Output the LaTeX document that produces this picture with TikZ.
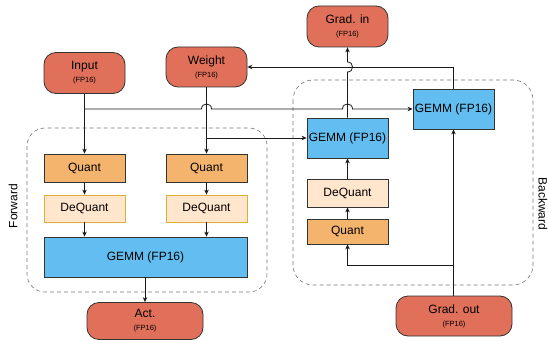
\documentclass[tikz,border=0pt]{standalone}
\usepackage{fontspec}
\setmainfont{Liberation Sans}
\usetikzlibrary{arrows.meta}
\definecolor{tensorred}{HTML}{E0705A}
\definecolor{quantfill}{HTML}{F5B46E}
\definecolor{dqfill}{HTML}{FFE6CC}
\definecolor{dqedge}{HTML}{E0AE35}
\definecolor{gemmfill}{HTML}{62BEF0}
\definecolor{edge}{HTML}{333333}
\definecolor{wire}{HTML}{1A1A1A}
\definecolor{groupline}{HTML}{777777}
\tikzset{
  tensor/.style={draw=edge, line width=0.8pt, fill=tensorred, rounded corners=12pt,
    align=center, inner sep=0pt, font=\fontsize{12}{12}\selectfont},
  quantbox/.style={draw=edge, line width=0.8pt, fill=quantfill, minimum width=81pt,
    inner sep=0pt, font=\fontsize{12}{12}\selectfont},
  dqbox/.style={draw=dqedge, line width=0.8pt, fill=dqfill, minimum width=81pt,
    inner sep=0pt, font=\fontsize{12}{12}\selectfont},
  gemmbox/.style={draw=edge, line width=0.8pt, fill=gemmfill, inner sep=0pt,
    font=\fontsize{12}{12}\selectfont},
  group/.style={draw=groupline, dashed, dash pattern=on 4pt off 3pt, line width=0.6pt},
  arr/.style={draw=wire, line width=0.8pt, -{Stealth[length=5pt,width=4.5pt]}},
  wireline/.style={draw=wire, line width=0.8pt},
  sidelabel/.style={font=\fontsize{12}{12}\selectfont, inner sep=0pt}
}
\newcommand{\subfp}{{\fontsize{7.5}{8}\selectfont (FP16)}}
\begin{document}
\begin{tikzpicture}[x=1pt,y=-1pt]
\useasboundingbox (0,0) rectangle (548,342);

% dashed groups
\draw[group, rounded corners=18pt] (27,128) rectangle (267,292);
\draw[group, rounded corners=20pt] (293,80) rectangle (533,285);
\node[sidelabel, rotate=90] (fwdlabel) at (13,206) {Forward};
\node[sidelabel, rotate=-90] (bwdlabel) at (543,204) {Backward};

% tensors
\node[tensor, minimum width=81pt, minimum height=41pt] (inp) at (84.5,73) {Input\\[1pt]\subfp};
\node[tensor, minimum width=81pt, minimum height=40pt] (wgt) at (206.5,67) {Weight\\[1pt]\subfp};
\node[tensor, minimum width=81pt, minimum height=41pt] (gin) at (347.5,26.5) {Grad. in\\[1pt]\subfp};
\node[tensor, minimum width=116pt, minimum height=37pt] (act) at (145,321) {Act.\\[1pt]\subfp};
\node[tensor, minimum width=116pt, minimum height=40pt] (gout) at (454,316) {Grad. out\\[1pt]\subfp};

% forward pass
\node[quantbox, minimum height=28pt] (qL) at (84.5,168) {Quant};
\node[quantbox, minimum height=28pt] (qR) at (206.5,168) {Quant};
\node[dqbox, minimum height=27pt] (dL) at (84.5,208.5) {DeQuant};
\node[dqbox, minimum height=27pt] (dR) at (206.5,208.5) {DeQuant};
\node[gemmbox, minimum width=203pt, minimum height=40pt] (gF) at (145.5,257) {GEMM (FP16)};

% backward pass
\node[gemmbox, minimum width=81pt, minimum height=40pt] (gB1) at (347.5,138) {GEMM (FP16)};
\node[gemmbox, minimum width=81pt, minimum height=40pt] (gB2) at (453.5,109) {GEMM (FP16)};
\node[dqbox, draw=edge, minimum height=28pt] (dB) at (347.5,193) {DeQuant};
\node[quantbox, minimum height=25pt] (qB) at (347.5,231.5) {Quant};

% branch points
\coordinate (inpT) at (84.5,109);
\coordinate (wgtT) at (206.5,138);
\coordinate (goutT) at (453.5,265);
\coordinate (gB2up) at (453.5,67);

% forward wiring
\draw[arr] (inp.south) -- (qL.north);
\draw[arr] (wgt.south) -- (qR.north);
\draw[arr] (qL) -- (dL);
\draw[arr] (qR) -- (dR);
\draw[arr] (dL.south) -- (dL.south |- gF.north);
\draw[arr] (dR.south) -- (dR.south |- gF.north);
\draw[arr] (gF.south -| act.north) -- (act.north);

% input and weight routed to the backward GEMMs
\draw[arr] (inpT) -- (201.5,109) .. controls (201.5,102.3) and (211.5,102.3) .. (211.5,109)
  -- (342.5,109) .. controls (342.5,102.3) and (352.5,102.3) .. (352.5,109) -- (gB2.west);
\draw[arr] (wgtT) -- (gB1.west);

% backward wiring
\draw[arr] (gB1.north) -- (347.5,72) .. controls (354.2,72) and (354.2,62) .. (347.5,62) -- (gin.south);
\draw[arr] (gB2.north) -- (gB2up) -- (wgt.east |- gB2up);
\draw[arr] (gout.north -| gB2.south) -- (gB2.south);
\draw[arr] (goutT) -- (goutT -| qB.south) -- (qB.south);
\draw[arr] (qB.north) -- (dB.south);
\draw[arr] (dB.north) -- (gB1.south);
\end{tikzpicture}
\end{document}
